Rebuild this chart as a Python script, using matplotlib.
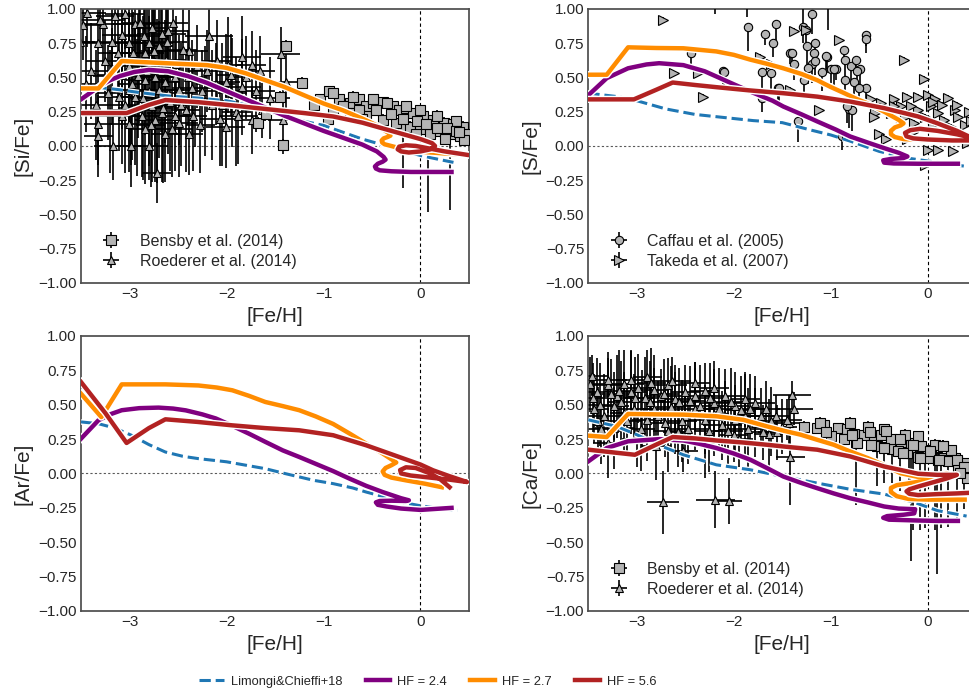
import matplotlib.pyplot as plt
import matplotlib.patheffects as pe
from matplotlib.ticker import FuncFormatter

# ---------------- chemical evolution tracks ([Fe/H], [X/Fe]) ----------------
# Limongi & Chieffi 2018 yields and three hypernova-fraction models
si_lc18_feh = [-3.35, -3.1, -2.9, -2.6, -2.3, -2.0, -1.8, -1.6, -1.4, -1.2, -1.0, -0.8, -0.6, -0.4, -0.2, 0.0, 0.2, 0.34]
si_lc18_x = [0.43, 0.41, 0.39, 0.365, 0.35, 0.33, 0.30, 0.26, 0.22, 0.18, 0.15, 0.10, 0.05, 0.01, -0.03, -0.07, -0.10, -0.12]
si_hf24_feh = [-3.5, -3.4, -3.3, -3.2, -3.1, -2.95, -2.8, -2.6, -2.4, -2.2, -2.0, -1.8, -1.6, -1.4, -1.2, -1.0,
               -0.8, -0.6, -0.45, -0.38, -0.36, -0.39, -0.44, -0.47, -0.46, -0.42, -0.3, -0.1, 0.1, 0.32]
si_hf24_x = [0.34, 0.39, 0.44, 0.48, 0.51, 0.54, 0.555, 0.545, 0.51, 0.46, 0.40, 0.34, 0.28, 0.22, 0.165, 0.11,
             0.06, 0.01, -0.04, -0.08, -0.10, -0.115, -0.13, -0.15, -0.165, -0.178, -0.185, -0.19, -0.19, -0.19]
si_hf27_feh = [-3.5, -3.32, -3.08, -2.8, -2.5, -2.2, -2.0, -1.8, -1.6, -1.4, -1.2, -1.0, -0.8, -0.6, -0.45, -0.33,
               -0.31, -0.34, -0.38, -0.40, -0.395, -0.37, -0.32, -0.25, -0.1, 0.05, 0.25, 0.48]
si_hf27_x = [0.42, 0.42, 0.62, 0.61, 0.60, 0.59, 0.57, 0.53, 0.48, 0.43, 0.37, 0.31, 0.26, 0.20, 0.15, 0.095,
             0.075, 0.065, 0.055, 0.04, 0.025, 0.012, 0.003, -0.01, -0.03, -0.045, -0.055, -0.065]
si_hf56_feh = [-3.5, -3.03, -2.8, -2.63, -2.3, -2.0, -1.6, -1.2, -0.9, -0.6, -0.4, -0.2, 0.0, 0.12, 0.15, 0.1,
               0.0, -0.12, -0.2, -0.235, -0.22, -0.15, -0.05, 0.1, 0.25, 0.48]
si_hf56_x = [0.24, 0.24, 0.30, 0.335, 0.32, 0.30, 0.27, 0.24, 0.215, 0.17, 0.13, 0.09, 0.05, 0.02, 0.0, -0.025,
             -0.04, -0.048, -0.04, -0.025, -0.005, 0.005, 0.0, -0.02, -0.04, -0.065]

s_lc18_feh = [-3.5, -3.2, -3.0, -2.7, -2.4, -2.0, -1.8, -1.5, -1.2, -1.0, -0.8, -0.5, -0.2, 0.1, 0.4]
s_lc18_x = [0.385, 0.36, 0.33, 0.27, 0.23, 0.20, 0.185, 0.17, 0.115, 0.08, 0.035, -0.04, -0.09, -0.12, -0.15]
s_hf24_feh = [-3.5, -3.31, -3.09, -2.9, -2.77, -2.52, -2.3, -2.18, -2.0, -1.83, -1.6, -1.49, -1.3, -1.14, -0.95,
              -0.8, -0.6, -0.45, -0.3, -0.21, -0.25, -0.38, -0.46, -0.45, -0.35, -0.1, 0.1, 0.31]
s_hf24_x = [0.37, 0.495, 0.567, 0.595, 0.604, 0.59, 0.545, 0.507, 0.45, 0.397, 0.33, 0.288, 0.23, 0.179, 0.12,
            0.069, 0.02, -0.016, -0.05, -0.077, -0.088, -0.095, -0.105, -0.122, -0.128, -0.13, -0.13, -0.13]
s_hf27_feh = [-3.5, -3.31, -3.09, -2.8, -2.52, -2.18, -2.0, -1.83, -1.66, -1.49, -1.3, -1.14, -1.0, -0.86, -0.74,
              -0.62, -0.45, -0.3, -0.25, -0.28, -0.34, -0.38, -0.38, -0.34, -0.25, -0.1, 0.1, 0.3, 0.5]
s_hf27_x = [0.52, 0.52, 0.72, 0.715, 0.713, 0.69, 0.665, 0.63, 0.60, 0.567, 0.525, 0.48, 0.43, 0.385, 0.345,
            0.31, 0.25, 0.19, 0.165, 0.15, 0.135, 0.11, 0.085, 0.065, 0.05, 0.045, 0.04, 0.04, 0.045]
s_hf56_feh = [-3.5, -3.03, -2.8, -2.63, -2.4, -2.18, -1.83, -1.49, -1.14, -0.8, -0.45, -0.1, 0.1, 0.3, 0.45,
              0.3, 0.1, -0.08, -0.18, -0.235, -0.22, -0.15, 0.0, 0.25, 0.5]
s_hf56_x = [0.34, 0.34, 0.41, 0.463, 0.445, 0.429, 0.405, 0.385, 0.36, 0.324, 0.276, 0.215, 0.165, 0.11, 0.06,
            0.085, 0.11, 0.125, 0.115, 0.095, 0.07, 0.055, 0.047, 0.04, 0.04]

ar_lc18_feh = [-3.5, -3.32, -3.15, -2.98, -2.8, -2.63, -2.45, -2.29, -2.0, -1.8, -1.6, -1.4, -1.25, -1.1, -0.9,
               -0.7, -0.56, -0.4, -0.21, 0.0, 0.2, 0.38]
ar_lc18_x = [0.375, 0.362, 0.33, 0.278, 0.21, 0.156, 0.125, 0.108, 0.085, 0.06, 0.035, 0.0, -0.025, -0.05, -0.074,
             -0.105, -0.135, -0.165, -0.207, -0.235, -0.255, -0.268]
ar_hf24_feh = [-3.5, -3.32, -3.2, -3.08, -2.9, -2.7, -2.55, -2.42, -2.25, -2.11, -1.95, -1.77, -1.6, -1.42, -1.25,
               -1.08, -0.9, -0.73, -0.56, -0.39, -0.2, -0.12, -0.15, -0.3, -0.42, -0.46, -0.44, -0.35, -0.2, 0.0, 0.32]
ar_hf24_x = [0.253, 0.387, 0.43, 0.46, 0.475, 0.479, 0.472, 0.459, 0.43, 0.40, 0.35, 0.29, 0.23, 0.168, 0.12,
             0.07, 0.017, -0.038, -0.09, -0.135, -0.18, -0.195, -0.20, -0.198, -0.20, -0.21, -0.228, -0.24, -0.255,
             -0.265, -0.25]
ar_hf27_feh = [-3.5, -3.29, -3.08, -2.8, -2.63, -2.29, -2.1, -1.94, -1.77, -1.6, -1.42, -1.25, -1.08, -0.9, -0.73,
               -0.56, -0.4, -0.25, -0.3, -0.36, -0.39, -0.37, -0.3, -0.15, 0.05, 0.22]
ar_hf27_x = [0.58, 0.41, 0.648, 0.648, 0.648, 0.64, 0.625, 0.605, 0.565, 0.52, 0.49, 0.46, 0.415, 0.36, 0.29,
             0.217, 0.15, 0.08, 0.06, 0.04, 0.015, -0.01, -0.03, -0.05, -0.075, -0.10]
ar_hf56_feh = [-3.5, -3.25, -3.03, -2.8, -2.63, -2.3, -1.94, -1.6, -1.25, -0.9, -0.56, -0.3, -0.1, 0.0, 0.13,
               0.3, 0.48, 0.3, 0.1, -0.1, -0.2, -0.21, -0.15, -0.05, 0.1, 0.2, 0.3]
ar_hf56_x = [0.665, 0.44, 0.222, 0.33, 0.394, 0.375, 0.35, 0.33, 0.314, 0.278, 0.205, 0.14, 0.09, 0.065, 0.023,
             -0.02, -0.062, -0.045, -0.03, -0.015, 0.0, 0.025, 0.045, 0.04, 0.0, -0.04, -0.10]

ca_lc18_feh = [-3.5, -3.21, -3.0, -2.75, -2.52, -2.18, -1.83, -1.49, -1.14, -0.8, -0.45, -0.29, -0.1, 0.1, 0.4]
ca_lc18_x = [0.39, 0.343, 0.282, 0.2, 0.136, 0.063, 0.027, -0.022, -0.07, -0.115, -0.15, -0.18, -0.22, -0.27, -0.31]
ca_hf24_feh = [-3.5, -3.31, -3.09, -2.77, -2.52, -2.35, -2.18, -2.0, -1.83, -1.66, -1.49, -1.3, -1.14, -0.97,
               -0.8, -0.62, -0.45, -0.3, -0.13, -0.14, -0.25, -0.42, -0.46, -0.4, -0.1, 0.1, 0.31]
ca_hf24_x = [0.088, 0.185, 0.234, 0.25, 0.24, 0.215, 0.185, 0.145, 0.1, 0.04, -0.022, -0.07, -0.107, -0.145,
             -0.18, -0.21, -0.24, -0.255, -0.26, -0.29, -0.30, -0.31, -0.322, -0.336, -0.342, -0.345, -0.345]
ca_hf27_feh = [-3.5, -3.31, -3.09, -2.8, -2.52, -2.18, -1.9, -1.66, -1.48, -1.31, -1.14, -0.97, -0.8, -0.62,
               -0.45, -0.28, -0.1, 0.05, 0.2, 0.1, -0.05, -0.2, -0.32, -0.38, -0.38, -0.32, -0.2, 0.0, 0.38]
ca_hf27_x = [0.275, 0.265, 0.433, 0.43, 0.428, 0.416, 0.39, 0.343, 0.31, 0.282, 0.245, 0.209, 0.16, 0.112,
             0.06, 0.002, -0.025, -0.02, 0.0, -0.035, -0.055, -0.072, -0.085, -0.105, -0.135, -0.165, -0.185,
             -0.19, -0.19]
ca_hf56_feh = [-3.5, -3.02, -2.8, -2.63, -2.4, -2.18, -1.9, -1.66, -1.4, -1.14, -0.8, -0.45, -0.1, 0.1, 0.3,
               0.2, 0.05, -0.1, -0.19, -0.22, -0.19, -0.1, 0.1, 0.3, 0.45]
ca_hf56_x = [0.173, 0.136, 0.21, 0.265, 0.255, 0.24, 0.225, 0.209, 0.19, 0.173, 0.124, 0.051, -0.002, -0.01,
             -0.01, -0.035, -0.065, -0.095, -0.115, -0.13, -0.148, -0.157, -0.15, -0.145, -0.14]

# ---------------- observations ----------------
# Bensby et al. (2014), [Si/Fe]
si_bensby_feh = [-1.39, -1.42, -1.22, -1.68, -1.45, -1.59,
                 -1.04, -0.94, -0.84, -0.73, -0.63, -0.56, -0.49, -0.39, -0.28, -0.22, -0.15, -0.08, 0.03, 0.13, 0.24, 0.34, 0.44,
                 -0.90, -0.73, -0.56, -0.39, -0.25, -0.11, 0.00, 0.10, 0.20, 0.31, 0.41,
                 -0.90, -0.70, -0.49, -0.35, -0.15, 0.00, 0.17, 0.37,
                 -0.80, -0.63, -0.46, -0.30, -0.18, -0.04, 0.06, 0.17, 0.27, 0.37, 0.46,
                 -0.95, -1.10, -0.60, -0.05, 0.25, 0.45, 0.40]
si_bensby_x = [0.73, 0.01, 0.46, 0.17, 0.36, 0.23,
               0.34, 0.40, 0.34, 0.31, 0.34, 0.29, 0.31, 0.32, 0.29, 0.26, 0.28, 0.24, 0.22, 0.19, 0.17, 0.16, 0.14,
               0.26, 0.24, 0.22, 0.19, 0.17, 0.14, 0.12, 0.09, 0.11, 0.09, 0.07,
               0.39, 0.36, 0.34, 0.31, 0.29, 0.26, 0.22, 0.18,
               0.29, 0.26, 0.26, 0.23, 0.20, 0.18, 0.16, 0.13, 0.13, 0.11, 0.09,
               0.20, 0.30, 0.20, 0.09, 0.05, 0.04, 0.10]
si_bensby_wide_feh = [-0.18, 0.08, 0.30]
si_bensby_wide_x = [0.14, 0.12, 0.10]
si_bensby_wide_lo = [0.45, 0.60, 0.57]

# Roederer et al. (2014), [Si/Fe]
si_roed_feh = [-3.44, -3.51, -3.27, -3.15, -3.32, -3.18, -3.08, -3.01, -2.94, -2.89,
               -2.77, -2.67, -2.60, -2.55, -2.61, -2.80, -2.70, -2.84, -2.96, -2.75,
               -2.18, -2.39, -1.98, -1.84, -1.74, -3.18, -3.08, -2.91, -2.84, -2.74,
               -2.63, -2.53, -3.01, -3.11, -3.22, -2.94, -2.80, -2.70, -2.60, -2.49,
               -2.36, -2.25, -2.11, -2.01, -1.94, -1.84, -2.32, -2.22, -2.42, -2.53,
               -2.67, -2.77, -2.87, -2.98, -3.08, -3.32, -3.01, -2.84, -2.74, -2.63,
               -2.49, -2.39, -2.01, -1.74, -3.17, -2.98, -2.80, -2.72, -3.32, -1.44,
               -1.39, -1.42, -1.63, -2.20, -2.05, -1.90, -1.55,
               -3.40, -3.35, -3.25, -3.20, -3.12, -3.05, -3.00, -2.97, -2.92, -2.90,
               -2.86, -2.82, -2.78, -2.76, -2.72, -2.68, -2.65, -2.62, -2.58, -2.56,
               -2.52, -2.47, -2.45, -2.40, -2.35, -2.30, -2.27, -2.15, -2.10, -2.07,
               -1.95, -1.88, -1.80, -1.70, -1.65, -3.45, -3.48, -3.30, -3.05, -2.85]
si_roed_x = [0.97, 0.76, 0.89, 0.95, 0.75, 0.76, 0.81, 0.75, 0.89, 0.90,
             0.86, 0.82, 0.84, 0.90, 0.76, 0.75, 0.73, 0.68, 0.68, 0.69,
             0.80, 0.69, 0.59, 0.65, 0.59, 0.51, 0.52, 0.51, 0.48, 0.50,
             0.47, 0.50, 0.41, 0.36, 0.39, 0.36, 0.40, 0.41, 0.39, 0.41,
             0.42, 0.40, 0.45, 0.47, 0.39, 0.43, 0.34, 0.33, 0.26, 0.22,
             0.24, 0.29, 0.22, 0.26, 0.22, 0.16, 0.16, 0.12, 0.19, 0.09,
             0.17, 0.09, 0.14, 0.19, 0.00, 0.00, 0.00, -0.20, 0.07, 0.67,
             0.47, 0.19, 0.26, 0.55, 0.30, 0.25, 0.35,
             0.55, 0.30, 0.62, 0.25, 0.68, 0.30, 0.58, 0.45, 0.28, 0.62,
             0.35, 0.55, 0.15, 0.62, 0.33, 0.55, 0.28, 0.63, 0.32, 0.12,
             0.60, 0.30, 0.70, 0.50, 0.22, 0.58, 0.15, 0.30, 0.62, 0.20,
             0.52, 0.22, 0.50, 0.40, 0.55, 0.45, 0.88, 0.92, 0.96, 0.80]
si_roed_yerr = [0.25, 0.30, 0.30, 0.20, 0.35, 0.25, 0.30, 0.40, 0.25, 0.30,
                0.35, 0.30, 0.40, 0.35, 0.30, 0.30, 0.45, 0.35, 0.30, 0.40,
                0.35, 0.30, 0.35, 0.30, 0.25, 0.35, 0.40, 0.45, 0.40, 0.50,
                0.45, 0.40, 0.45, 0.40, 0.35, 0.50, 0.55, 0.50, 0.45, 0.40,
                0.35, 0.30, 0.30, 0.35, 0.40, 0.35, 0.35, 0.40, 0.45, 0.40,
                0.50, 0.55, 0.45, 0.40, 0.35, 0.30, 0.35, 0.40, 0.45, 0.35,
                0.40, 0.30, 0.30, 0.25, 0.25, 0.30, 0.25, 0.22, 0.30, 0.20,
                0.20, 0.25, 0.20, 0.30, 0.45, 0.40, 0.30,
                0.35, 0.40, 0.30, 0.45, 0.35, 0.50, 0.40, 0.55, 0.50, 0.45,
                0.60, 0.45, 0.45, 0.50, 0.60, 0.45, 0.55, 0.40, 0.50, 0.35,
                0.35, 0.45, 0.30, 0.35, 0.40, 0.30, 0.35, 0.40, 0.30, 0.35,
                0.30, 0.35, 0.30, 0.30, 0.25, 0.35, 0.25, 0.20, 0.25, 0.35]
si_roed_xerr = [0.20, 0.15, 0.25, 0.20, 0.20, 0.30, 0.20, 0.15, 0.25, 0.20,
                0.15, 0.25, 0.20, 0.15, 0.20, 0.25, 0.15, 0.20, 0.25, 0.15,
                0.25, 0.20, 0.15, 0.20, 0.15, 0.20, 0.25, 0.15, 0.20, 0.20,
                0.15, 0.20, 0.25, 0.20, 0.15, 0.20, 0.15, 0.20, 0.25, 0.15,
                0.20, 0.15, 0.20, 0.15, 0.15, 0.20, 0.15, 0.20, 0.15, 0.20,
                0.15, 0.20, 0.15, 0.20, 0.25, 0.15, 0.20, 0.15, 0.20, 0.15,
                0.20, 0.15, 0.20, 0.15, 0.20, 0.15, 0.20, 0.15, 0.15, 0.20,
                0.15, 0.15, 0.20, 0.20, 0.20, 0.15, 0.20,
                0.20, 0.15, 0.20, 0.15, 0.20, 0.15, 0.20, 0.15, 0.20, 0.15,
                0.15, 0.20, 0.15, 0.15, 0.20, 0.15, 0.15, 0.20, 0.15, 0.20,
                0.15, 0.20, 0.15, 0.20, 0.15, 0.20, 0.15, 0.20, 0.15, 0.20,
                0.15, 0.20, 0.15, 0.20, 0.15, 0.20, 0.20, 0.25, 0.20, 0.20]

# Caffau et al. (2005), [S/Fe]  (lower error only)
s_caffau_feh = [-2.44, -2.11, -1.85, -1.68, -1.60, -1.57, -1.71, -1.62, -1.54, -1.71,
                -1.42, -1.38, -1.34, -1.29, -1.26, -1.19, -1.25, -1.16, -1.17, -1.19,
                -1.16, -1.23, -1.28, -1.09, -1.04, -1.00, -0.95, -0.86, -0.85, -0.79,
                -0.74, -0.70, -0.85, -0.76, -0.64, -0.64, -0.64, -0.81, -0.78, -0.88,
                -0.83, -0.73, -0.71, -1.05, -0.97, -1.40, -1.53, -2.10, -2.19, -1.86,
                -1.29, -1.03]
s_caffau_x = [0.68, 0.55, 0.87, 0.82, 0.75, 0.89, 0.54, 0.53, 0.42, 0.35,
              0.68, 0.60, 0.18, 0.87, 0.85, 0.96, 0.73, 0.75, 0.68, 0.60,
              0.62, 0.57, 0.48, 0.54, 0.65, 0.56, 0.56, 0.70, 0.63, 0.58,
              0.63, 0.56, 0.48, 0.47, 0.81, 0.78, 0.42, 0.27, 0.26, 0.07,
              0.29, 0.55, 0.42, 0.66, 0.56, 0.68, 0.42, 0.54, 1.08, 1.06,
              1.10, 1.05]
s_caffau_lo = [0.08, 0.10, 0.18, 0.08, 0.10, 0.12, 0.12, 0.15, 0.10, 0.10,
               0.08, 0.12, 0.15, 0.12, 0.10, 0.14, 0.15, 0.10, 0.12, 0.14,
               0.10, 0.12, 0.12, 0.14, 0.12, 0.10, 0.08, 0.10, 0.14, 0.12,
               0.10, 0.15, 0.12, 0.10, 0.08, 0.10, 0.12, 0.14, 0.15, 0.10,
               0.12, 0.14, 0.12, 0.10, 0.12, 0.10, 0.12, 0.10, 0.12, 0.12,
               0.30, 0.20]

# Takeda et al. (2007), [S/Fe]
s_takeda_feh = [-2.73, -2.62, -2.37, -2.32, -1.73, -1.38, -1.26, -1.42, -1.12, -0.92,
                -0.83, -0.25, -0.04, -0.59, -0.48, -0.54, -0.50, -0.43, -0.35, -0.28,
                -0.21, -0.10, 0.00, 0.07, 0.21, 0.28, 0.31, 0.38, -0.10, -0.03,
                0.03, 0.10, 0.17, 0.24, 0.10, 0.00, 0.26, -0.21, -0.03, -0.17,
                -0.35, -0.24, -0.38, -0.14, -0.28, -0.55, 0.05, 0.15, 0.30, 0.42,
                0.45, -0.45, -1.62, 0.40, 0.05, -0.15]
s_takeda_x = [0.92, 0.53, 0.53, 0.36, 0.65, 0.84, 0.85, 0.41, 0.26, 0.77,
              0.07, 0.63, 0.49, 0.34, 0.31, 0.24, 0.09, 0.05, 0.34, 0.29,
              0.36, 0.36, 0.37, 0.34, 0.35, 0.26, 0.21, 0.15, 0.26, 0.21,
              0.29, 0.24, 0.19, 0.14, -0.03, -0.03, -0.04, 0.05, -0.14, 0.29,
              0.29, 0.21, 0.24, 0.17, 0.17, 0.21, 0.32, 0.30, 0.30, 0.25,
              0.18, 0.28, 0.60, 0.02, 0.14, 0.10]

# Bensby et al. (2014), [Ca/Fe]
ca_bensby_feh = [-1.07, -1.14, -0.93, -0.83, -0.76, -0.66, -0.55, -0.48, -0.38, -0.28, -0.17, -0.07, 0.03, 0.16, 0.28, 0.38,
                 -1.00, -0.86, -0.73, -0.59, -0.45, -0.31, -0.21, -0.10, 0.00, 0.10, 0.21, 0.31, 0.41,
                 -0.80, -0.62, -0.45, -0.24, -0.10, 0.07, 0.24, -1.28, -1.11,
                 -1.05, -0.78, -0.60, -0.43, -0.29, -0.15, 0.02, 0.16, 0.30, 0.37, 0.40, -0.26, -0.08, 0.12, 0.33]
ca_bensby_x = [0.355, 0.33, 0.33, 0.32, 0.29, 0.28, 0.27, 0.28, 0.25, 0.23, 0.22, 0.20, 0.17, 0.20, 0.11, 0.075,
               0.27, 0.25, 0.22, 0.21, 0.185, 0.16, 0.15, 0.12, 0.11, 0.10, 0.09, 0.05, 0.015,
               0.37, 0.34, 0.32, 0.28, 0.27, 0.21, 0.17, 0.34, 0.37,
               0.30, 0.28, 0.30, 0.31, 0.25, 0.21, 0.16, 0.20, 0.10, 0.05, -0.03, 0.15, 0.11, 0.10, 0.00]
ca_bensby_wide_feh = [-0.74, -0.52, -0.45, -0.37, -0.29, -0.19, -0.17, -0.15, -0.08, -0.03, 0.07, 0.09, 0.14, 0.21, 0.30, 0.37]
ca_bensby_wide_x = [0.22, 0.20, 0.19, 0.18, 0.17, 0.16, 0.15, 0.15, 0.14, 0.13, 0.12, 0.12, 0.11, 0.10, 0.09, 0.07]
ca_bensby_wide_lo = [0.45, 0.29, 0.26, 0.25, 0.30, 0.33, 0.79, 0.56, 0.55, 0.53, 0.53, 0.85, 0.51, 0.49, 0.43, 0.33]

# Roederer et al. (2014), [Ca/Fe]
ca_roed_feh = [-3.48, -3.41, -3.30, -3.20, -3.13, -3.06, -2.99, -2.92, -2.82, -2.75,
               -2.68, -2.61, -2.50, -2.40, -2.30, -2.20, -2.09, -1.99, -1.88, -1.78,
               -1.67, -1.57, -1.43, -1.40, -3.44, -3.34, -3.23, -3.13, -3.03, -2.90,
               -2.82, -2.71, -2.61, -2.50, -2.40, -2.30, -2.20, -2.09, -1.99, -1.88,
               -1.78, -3.37, -3.23, -2.96, -2.68, -2.47, -2.26, -2.06, -1.85, -1.64,
               -1.50, -3.46, -3.30, -3.06, -2.89, -2.64, -2.40, -2.52, -1.38, -1.45,
               -1.42, -2.73, -2.19, -2.05, -3.30, -3.00, -2.30, -1.95, -2.80, -3.18,
               -3.45, -3.38, -3.27, -3.16, -3.10, -3.02, -2.95, -2.86, -2.78, -2.72,
               -2.65, -2.56, -2.53, -2.45, -2.35, -2.25, -2.15, -2.12, -2.03, -1.93,
               -1.83, -1.72, -1.62, -1.55, -3.40, -2.58, -2.00, -1.70, -2.85, -2.20]
ca_roed_x = [0.65, 0.59, 0.64, 0.56, 0.65, 0.59, 0.62, 0.55, 0.61, 0.56,
             0.64, 0.54, 0.59, 0.56, 0.60, 0.51, 0.56, 0.49, 0.54, 0.51,
             0.47, 0.42, 0.37, 0.57, 0.47, 0.42, 0.49, 0.44, 0.47, 0.39,
             0.47, 0.37, 0.44, 0.42, 0.47, 0.39, 0.43, 0.42, 0.39, 0.42,
             0.37, 0.32, 0.33, 0.32, 0.31, 0.32, 0.31, 0.31, 0.32, 0.29,
             0.34, 0.71, 0.68, 0.68, 0.70, 0.67, 0.66, 0.16, 0.47, 0.39,
             0.12, -0.21, -0.19, -0.20, 0.22, 0.25, 0.22, 0.25, 0.20, 0.60,
             0.55, 0.50, 0.58, 0.52, 0.38, 0.55, 0.45, 0.52, 0.42, 0.58,
             0.48, 0.52, 0.38, 0.53, 0.49, 0.55, 0.47, 0.35, 0.52, 0.46,
             0.47, 0.42, 0.38, 0.30, 0.38, 0.30, 0.28, 0.30, 0.66, 0.62]
ca_roed_yerr = [0.20, 0.25, 0.20, 0.30, 0.25, 0.30, 0.25, 0.30, 0.25, 0.20,
                0.20, 0.25, 0.20, 0.25, 0.20, 0.25, 0.20, 0.25, 0.20, 0.20,
                0.20, 0.15, 0.20, 0.10, 0.25, 0.30, 0.25, 0.30, 0.25, 0.30,
                0.30, 0.25, 0.30, 0.25, 0.30, 0.25, 0.30, 0.25, 0.25, 0.30,
                0.25, 0.25, 0.30, 0.30, 0.30, 0.25, 0.30, 0.25, 0.30, 0.25,
                0.20, 0.15, 0.20, 0.22, 0.20, 0.18, 0.15, 0.15, 0.12, 0.15,
                0.35, 0.23, 0.21, 0.17, 0.25, 0.20, 0.25, 0.20, 0.25, 0.30,
                0.25, 0.30, 0.25, 0.30, 0.25, 0.30, 0.30, 0.30, 0.25, 0.25,
                0.30, 0.25, 0.30, 0.25, 0.30, 0.25, 0.30, 0.25, 0.25, 0.25,
                0.25, 0.20, 0.25, 0.20, 0.25, 0.25, 0.20, 0.20, 0.25, 0.20]
ca_roed_xerr = [0.15, 0.15, 0.20, 0.15, 0.20, 0.15, 0.15, 0.20, 0.15, 0.15,
                0.20, 0.15, 0.15, 0.20, 0.15, 0.15, 0.20, 0.15, 0.15, 0.20,
                0.15, 0.15, 0.20, 0.20, 0.15, 0.20, 0.15, 0.15, 0.20, 0.15,
                0.15, 0.20, 0.15, 0.15, 0.20, 0.15, 0.15, 0.20, 0.15, 0.15,
                0.20, 0.15, 0.20, 0.15, 0.15, 0.20, 0.15, 0.15, 0.20, 0.15,
                0.15, 0.15, 0.20, 0.15, 0.15, 0.20, 0.15, 0.15, 0.20, 0.15,
                0.15, 0.17, 0.20, 0.13, 0.15, 0.15, 0.15, 0.15, 0.15, 0.15,
                0.15, 0.15, 0.20, 0.15, 0.15, 0.20, 0.15, 0.15, 0.20, 0.15,
                0.15, 0.20, 0.15, 0.15, 0.20, 0.15, 0.15, 0.20, 0.15, 0.15,
                0.20, 0.15, 0.15, 0.20, 0.15, 0.15, 0.15, 0.15, 0.15, 0.15]

# ---------------- styling ----------------
plt.rcParams.update({
    'font.family': ['Liberation Sans', 'DejaVu Sans'],
    'text.color': '.15',
    'axes.labelcolor': '.15',
    'xtick.color': '.15',
    'ytick.color': '.15',
    'axes.edgecolor': '.3',
    'axes.linewidth': 1.25,
    'xtick.major.size': 0,
    'ytick.major.size': 0,
})

MARKER_FACE = '#b4b4b4'
halo = [pe.Stroke(linewidth=5.2, foreground='white'), pe.Normal()]
halo_thin = [pe.Stroke(linewidth=4.0, foreground='white'), pe.Normal()]
minus_fmt = FuncFormatter(lambda v, pos: f'{v:.2f}'.replace('-', '\u2212'))


def setup(ax, ylabel):
    ax.set_xlim(-3.5, 0.5)
    ax.set_ylim(-1.0, 1.0)
    ax.set_xticks([-3, -2, -1, 0])
    ax.set_yticks([-1.0, -0.75, -0.5, -0.25, 0.0, 0.25, 0.5, 0.75, 1.0])
    ax.yaxis.set_major_formatter(minus_fmt)
    ax.tick_params(labelsize=11, pad=3)
    ax.axhline(0, color='.35', ls=(0, (2, 2)), lw=0.8, zorder=1)
    ax.axvline(0, color='k', ls=(0, (3, 2.5)), lw=0.8, zorder=1)
    ax.set_xlabel('[Fe/H]', fontsize=15)
    ax.set_ylabel(ylabel, fontsize=15)


def draw_tracks(ax, lc, hf24, hf27, hf56):
    lines = []
    lines += ax.plot(*lc, color='#1f77b4', ls='--', lw=2.2, zorder=6, path_effects=halo_thin,
                     label='Limongi&Chieffi+18')
    lines += ax.plot(*hf24, color='purple', lw=3.2, zorder=7, path_effects=halo, label='HF = 2.4',
                     solid_joinstyle='round')
    lines += ax.plot(*hf27, color='darkorange', lw=3.2, zorder=8, path_effects=halo, label='HF = 2.7',
                     solid_joinstyle='round')
    lines += ax.plot(*hf56, color='firebrick', lw=3.2, zorder=9, path_effects=halo, label='HF = 5.6',
                     solid_joinstyle='round')
    return lines


def panel_legend(ax, handles):
    ax.legend(handles, [h.get_label() for h in handles], loc='lower left', frameon=False,
              fontsize=11.5, labelspacing=0.3)


fig = plt.figure(figsize=(9.7, 6.9), dpi=100)
ax_si = fig.add_axes([0.0835, 0.590, 0.400, 0.397])
ax_s = fig.add_axes([0.6065, 0.590, 0.400, 0.397])
ax_ar = fig.add_axes([0.0835, 0.1145, 0.400, 0.3986])
ax_ca = fig.add_axes([0.6065, 0.1145, 0.400, 0.3986])

err_kw = dict(ecolor='k', elinewidth=1.2, capsize=0, mec='k', mew=0.8, mfc=MARKER_FACE)

# [Si/Fe]
setup(ax_si, '[Si/Fe]')
si_b = ax_si.errorbar(si_bensby_feh, si_bensby_x, xerr=0.03, yerr=0.04, fmt='s', ms=7, zorder=3,
                      label='Bensby et al. (2014)', **err_kw)
ax_si.errorbar(si_bensby_wide_feh, si_bensby_wide_x, yerr=[si_bensby_wide_lo, [0.0] * len(si_bensby_wide_lo)],
               fmt='s', ms=7, zorder=2, **err_kw)
si_r = ax_si.errorbar(si_roed_feh, si_roed_x, xerr=si_roed_xerr, yerr=si_roed_yerr, fmt='^', ms=6, zorder=2,
                      label='Roederer et al. (2014)', **err_kw)
draw_tracks(ax_si, (si_lc18_feh, si_lc18_x), (si_hf24_feh, si_hf24_x),
            (si_hf27_feh, si_hf27_x), (si_hf56_feh, si_hf56_x))
panel_legend(ax_si, [si_b, si_r])

# [S/Fe]
setup(ax_s, '[S/Fe]')
s_c = ax_s.errorbar(s_caffau_feh, s_caffau_x, xerr=0.03, yerr=[s_caffau_lo, [0.0] * len(s_caffau_lo)],
                    fmt='o', ms=6, zorder=3, label='Caffau et al. (2005)', **err_kw)
s_t = ax_s.errorbar(s_takeda_feh, s_takeda_x, xerr=0.02, yerr=0.02, fmt='>', ms=6.5, zorder=3,
                    label='Takeda et al. (2007)', **err_kw)
draw_tracks(ax_s, (s_lc18_feh, s_lc18_x), (s_hf24_feh, s_hf24_x),
            (s_hf27_feh, s_hf27_x), (s_hf56_feh, s_hf56_x))
panel_legend(ax_s, [s_c, s_t])

# [Ar/Fe]
setup(ax_ar, '[Ar/Fe]')
track_lines = draw_tracks(ax_ar, (ar_lc18_feh, ar_lc18_x), (ar_hf24_feh, ar_hf24_x),
                          (ar_hf27_feh, ar_hf27_x), (ar_hf56_feh, ar_hf56_x))

# [Ca/Fe]
setup(ax_ca, '[Ca/Fe]')
ca_r = ax_ca.errorbar(ca_roed_feh, ca_roed_x, xerr=ca_roed_xerr, yerr=ca_roed_yerr, fmt='^', ms=6, zorder=2,
                      label='Roederer et al. (2014)', **err_kw)
ax_ca.errorbar(ca_bensby_wide_feh, ca_bensby_wide_x, yerr=[ca_bensby_wide_lo, [0.0] * len(ca_bensby_wide_lo)],
               fmt='s', ms=7, zorder=2, **err_kw)
ca_b = ax_ca.errorbar(ca_bensby_feh, ca_bensby_x, xerr=0.03, yerr=0.04, fmt='s', ms=7, zorder=3,
                      label='Bensby et al. (2014)', **err_kw)
draw_tracks(ax_ca, (ca_lc18_feh, ca_lc18_x), (ca_hf24_feh, ca_hf24_x),
            (ca_hf27_feh, ca_hf27_x), (ca_hf56_feh, ca_hf56_x))
panel_legend(ax_ca, [ca_b, ca_r])

# shared legend for the model tracks
fig.legend(track_lines, [ln.get_label() for ln in track_lines], loc='center', ncol=4, frameon=False,
           bbox_to_anchor=(0.441, 0.012), handlelength=1.9, columnspacing=1.8, handletextpad=0.55,
           fontsize=9.3)

fig.savefig('out.png', dpi=100)
